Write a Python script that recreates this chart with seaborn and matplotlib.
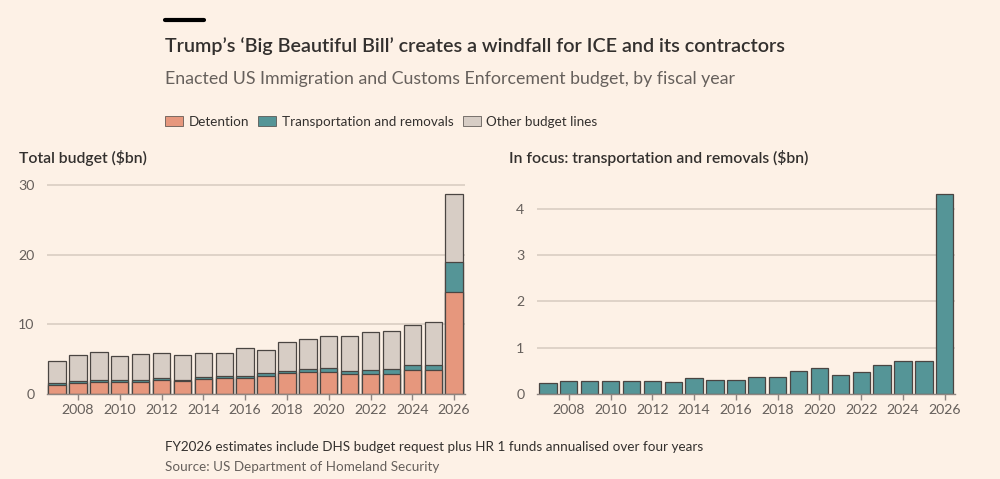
import matplotlib
matplotlib.use("Agg")
import matplotlib.pyplot as plt
import seaborn as sns
import pandas as pd
import numpy as np
from matplotlib.patches import Patch

# ---------------- data ----------------
years = list(range(2007, 2027))
detention = [1.29, 1.53, 1.67, 1.67, 1.67, 1.96, 1.82, 2.15, 2.34, 2.25,
             2.63, 2.97, 3.11, 3.11, 2.82, 2.92, 2.92, 3.40, 3.40, 14.59]
transport = [0.24, 0.29, 0.29, 0.29, 0.29, 0.29, 0.26, 0.35, 0.31, 0.31,
             0.36, 0.37, 0.49, 0.56, 0.42, 0.47, 0.63, 0.72, 0.72, 4.32]
other = [3.16, 3.73, 4.12, 3.45, 3.83, 3.68, 3.52, 3.43, 3.19, 4.09,
         3.39, 4.08, 4.25, 4.61, 5.04, 5.46, 5.54, 5.78, 6.21, 9.85]
tick_years = list(range(2008, 2027, 2))
left_yticks = [0, 10, 20, 30]
right_yticks = [0, 1, 2, 3, 4]
series_names = ["Detention", "Transportation and removals", "Other budget lines"]

title = "Trump\u2019s \u2018Big Beautiful Bill\u2019 creates a windfall for ICE and its contractors"
subtitle = "Enacted US Immigration and Customs Enforcement budget, by fiscal year"
left_title = "Total budget ($bn)"
right_title = "In focus: transportation and removals ($bn)"
note = "FY2026 estimates include DHS budget request plus HR 1 funds annualised over four years"
source = "Source: US Department of Homeland Security"

# ---------------- style ----------------
BG = "#FDF1E6"
C_DET = "#E6977D"
C_TRA = "#559597"
C_OTH = "#D7CDC5"
EDGE = "#4A4542"
GRID = "#DCD0C5"
AXC = "#8E8580"
TXT = "#33302E"
TXT2 = "#66605C"

sns.set_theme(style="white")
plt.rcParams["font.family"] = ["Lato", "DejaVu Sans"]
plt.rcParams["figure.facecolor"] = BG
plt.rcParams["axes.facecolor"] = BG

df = pd.DataFrame({"year": [str(y) for y in years],
                   "det": detention, "tra": transport, "oth": other})
df["det_tra"] = df["det"] + df["tra"]
df["total"] = df["det_tra"] + df["oth"]

fig = plt.figure(figsize=(10, 4.79), dpi=100)
H = 479.0
bottom = 1 - 394 / H
height = (394 - 183) / H
axL = fig.add_axes([0.047, bottom, 0.418, height])
axR = fig.add_axes([0.537, bottom, 0.418, height])

bw = 0.83
lw = 0.9
# Left: stacked (drawn as overlapping cumulative bars)
sns.barplot(data=df, x="year", y="total", color=C_OTH, saturation=1, width=bw,
            edgecolor=EDGE, linewidth=lw, ax=axL, zorder=3)
sns.barplot(data=df, x="year", y="det_tra", color=C_TRA, saturation=1, width=bw,
            edgecolor=EDGE, linewidth=lw, ax=axL, zorder=3)
sns.barplot(data=df, x="year", y="det", color=C_DET, saturation=1, width=bw,
            edgecolor=EDGE, linewidth=lw, ax=axL, zorder=3)
# Right
sns.barplot(data=df, x="year", y="tra", color=C_TRA, saturation=1, width=bw,
            edgecolor=EDGE, linewidth=lw, ax=axR, zorder=3)

ycat = [str(y) for y in years]
tick_pos = [ycat.index(str(y)) for y in tick_years]

for ax, yt, ylim, xlim in [(axL, left_yticks, 30.27, (-0.48, 19.52)),
                           (axR, right_yticks, 4.56, (-0.52, 19.49))]:
    ax.set_ylim(0, ylim)
    ax.set_xlim(*xlim)
    ax.set_yticks(yt)
    ax.set_yticklabels([str(v) for v in yt])
    ax.set_xticks(tick_pos)
    ax.set_xticklabels([str(y) for y in tick_years])
    ax.set_xlabel("")
    ax.set_ylabel("")
    for s in ["top", "right", "left"]:
        ax.spines[s].set_visible(False)
    ax.spines["bottom"].set_color(AXC)
    ax.spines["bottom"].set_linewidth(1.0)
    ax.spines["bottom"].set_zorder(5)
    ax.tick_params(axis="x", length=4.5, width=1.0, color=AXC, pad=3,
                   labelsize=10.2, labelcolor=TXT2, direction="out", bottom=True)
    ax.tick_params(axis="y", length=0, pad=9, labelsize=10.2, labelcolor=TXT2)
    for v in yt[1:]:
        ax.axhline(v, color=GRID, lw=1.3, zorder=1)

# Texts
def fx(px):
    return px / 1000.0
def fy(py):
    return 1 - py / H

fig.add_artist(plt.Line2D([fx(165), fx(204)], [fy(20), fy(20)], color="black", lw=3))
fig.text(fx(165), fy(51.7), title, fontsize=14.2, fontweight="semibold", color=TXT, va="baseline")
fig.text(fx(165), fy(84), subtitle, fontsize=12.75, color=TXT2, va="baseline")
fig.text(fx(19), fy(162.7), left_title, fontsize=11.35, fontweight="semibold", color=TXT, va="baseline")
fig.text(fx(509), fy(162.7), right_title, fontsize=11.35, fontweight="semibold", color=TXT, va="baseline")
fig.text(fx(165), fy(451), note, fontsize=9.7, color=TXT, va="baseline")
fig.text(fx(165), fy(470.7), source, fontsize=9.7, color=TXT2, va="baseline")

handles = [Patch(facecolor=c, edgecolor=EDGE, linewidth=0.5, label=n)
           for c, n in zip([C_DET, C_TRA, C_OTH], series_names)]
fs_leg = 9.7
leg = fig.legend(handles=handles, loc="center left", bbox_to_anchor=(fx(165), fy(121.5)),
                 ncol=3, frameon=False, fontsize=fs_leg, handlelength=1.35, handleheight=0.7,
                 handletextpad=0.38, columnspacing=0.7, borderpad=0, borderaxespad=0)
for t in leg.get_texts():
    t.set_color(TXT)

fig.savefig("out.png", dpi=100, facecolor=BG)
